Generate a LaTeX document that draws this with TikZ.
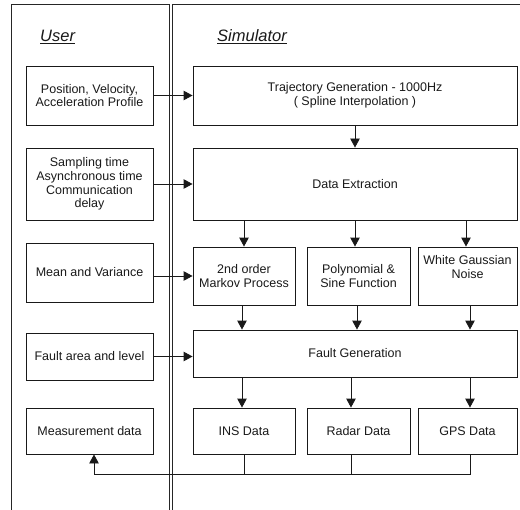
\documentclass[tikz,border=0pt]{standalone}
\usepackage{fontspec}
\setmainfont{Liberation Sans}
\usetikzlibrary{arrows.meta}
\tikzset{
  box/.style={draw=black!90, line width=0.9bp, inner sep=0pt, align=center,
    font=\fontsize{12.5bp}{13.6bp}\selectfont, text=black!90},
  arr/.style={draw=black!90, line width=0.9bp, -{Triangle[length=9bp,width=9.5bp]}},
  ln/.style={draw=black!90, line width=0.9bp},
  panel/.style={draw=black!85, line width=0.9bp},
  title/.style={font=\fontsize{16.5bp}{18bp}\selectfont\itshape, text=black!90, inner sep=0pt, anchor=west}
}
\begin{document}
\begin{tikzpicture}[x=1bp,y=-1bp]
\useasboundingbox (0,0) rectangle (520,510);
% panels
\draw[panel] (11,510) -- (11,4) -- (169,4) -- (169,510);
\draw[panel] (520,4) -- (172.5,4) -- (172.5,510);
\node[title] (tu) at (40,37) {\underline{User}};
\node[title] (ts) at (217,37) {\underline{Simulator}};
% user boxes
\node[box, minimum width=127bp, minimum height=59bp] (u1) at (89.5,95.5) {Position, Velocity,\\Acceleration Profile};
\node[box, minimum width=127bp, minimum height=72bp] (u2) at (89.5,184) {Sampling time\\Asynchronous time\\Communication\\delay};
\node[box, minimum width=127bp, minimum height=59bp] (u3) at (89.5,272.5) {Mean and Variance};
\node[box, minimum width=127bp, minimum height=47bp] (u4) at (89.5,356.5) {Fault area and level};
\node[box, minimum width=127bp, minimum height=46bp] (u5) at (89.5,431) {Measurement data};
% simulator boxes
\node[box, minimum width=324bp, minimum height=59bp] (traj) at (355,95.5) {Trajectory Generation - 1000Hz\\( Spline Interpolation )};
\node[box, minimum width=324bp, minimum height=72bp] (dext) at (355,184) {Data Extraction};
\node[box, minimum width=102bp, minimum height=58bp] (mk) at (244,276) {2nd order\\Markov Process};
\node[box, minimum width=103bp, minimum height=58bp] (poly) at (358.5,276) {Polynomial \&\\Sine Function};
\node[box, minimum width=99bp, minimum height=58bp] (wgn) at (467.5,276) {White Gaussian\\Noise\\[4bp]};
\node[box, minimum width=324bp, minimum height=47bp] (fg) at (355,353.5) {Fault Generation};
\node[box, minimum width=102bp, minimum height=46bp] (ins) at (244,431) {INS Data};
\node[box, minimum width=103bp, minimum height=46bp] (radar) at (358.5,431) {Radar Data};
\node[box, minimum width=99bp, minimum height=46bp] (gps) at (467.5,431) {GPS Data};
% user -> simulator
\draw[arr] (u1.east) -- (u1.east -| traj.west);
\draw[arr] (u2.east) -- (u2.east -| dext.west);
\draw[arr] (u3.east |- mk.west) -- (mk.west);
\draw[arr] (u4.east) -- (u4.east -| fg.west);
% vertical flow
\draw[arr] (traj.south) -- (dext.north);
\draw[arr] (mk.north |- dext.south) -- (mk.north);
\draw[arr] ([xshift=-3.5bp]poly.north |- dext.south) -- ([xshift=-3.5bp]poly.north);
\draw[arr] ([xshift=-1.5bp]wgn.north |- dext.south) -- ([xshift=-1.5bp]wgn.north);
\draw[arr] ([xshift=-2bp]mk.south) -- ([xshift=-2bp]mk.south |- fg.north);
\draw[arr] ([xshift=-1.5bp]poly.south) -- ([xshift=-1.5bp]poly.south |- fg.north);
\draw[arr] ([xshift=2.5bp]wgn.south) -- ([xshift=2.5bp]wgn.south |- fg.north);
\draw[arr] ([xshift=-2bp]fg.south -| ins.north) -- ([xshift=-2bp]ins.north);
\draw[arr] ([xshift=-7.5bp]fg.south -| radar.north) -- ([xshift=-7.5bp]radar.north);
\draw[arr] ([xshift=2.5bp]fg.south -| gps.north) -- ([xshift=2.5bp]gps.north);
% feedback
\coordinate (bus) at (0,474);
\coordinate (m) at ([xshift=4.5bp]u5.south);
\draw[ln] (ins.south) -- (ins.south |- bus);
\draw[ln] ([xshift=-7.5bp]radar.south) -- ([xshift=-7.5bp]radar.south |- bus);
\draw[arr] ([xshift=2.5bp]gps.south) |- (m |- bus) -- (m);
\end{tikzpicture}
\end{document}
